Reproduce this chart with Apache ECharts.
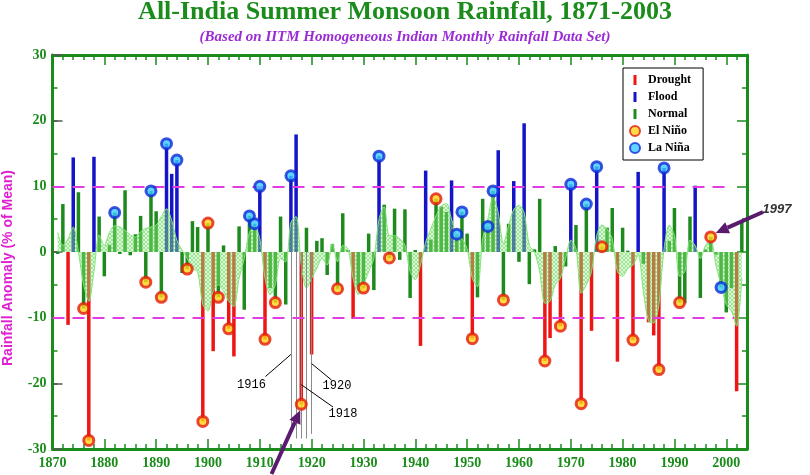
<!DOCTYPE html>
<html>
<head>
<meta charset="utf-8">
<title>All-India Summer Monsoon Rainfall</title>
<script src="https://cdn.jsdelivr.net/npm/echarts@6/dist/echarts.min.js"></script>
<style>
html, body { margin: 0; padding: 0; background: #fff; }
#chart { width: 810px; height: 475px; }
</style>
</head>
<body>
<div id="chart"></div>
<script>
// rainfall anomaly (% of mean), one value per year from 1871
var firstYear = 1871;
var anomaly = [
	-0.3, 7.3, -11.1, 14.4, 9.1, -8.6, -28.7, 14.5, 5.4, -3.7,
	1.1, 6.0, -0.3, 9.4, -0.5, 2.7, 5.5, -4.6, 9.3, 6.2,
	-6.9, 16.5, 11.9, 14.0, -3.2, -2.6, 4.7, 3.8, -25.8, 4.4,
	-15.1, -6.9, 1.0, -11.7, -15.9, 3.9, -8.8, 5.5, 4.3, 10.0,
	-13.3, -5.5, -7.7, 5.4, -8.0, 11.6, 17.9, -23.2, 3.7, -15.6,
	1.7, 2.1, -3.5, 1.2, -5.6, 5.9, 0.3, -10.2, -5.3, -5.5,
	2.8, -5.8, 14.6, 7.2, -0.9, 6.6, -1.2, 6.5, -7.0, 0.3,
	-14.3, 12.4, 1.9, 8.1, 6.9, 6.1, 10.9, 2.7, 6.1, 2.8,
	-13.2, -6.9, 8.1, 3.9, 9.3, 15.5, -7.3, 4.3, 10.8, -1.5,
	19.6, -4.9, 0.4, 8.1, -16.6, -13.1, 0.9, -11.3, -2.2, 10.3,
	4.1, -23.1, 7.3, -12.0, 13.0, 0.8, 3.7, 6.7, -16.7, 3.7,
	0.2, -13.4, 12.2, -1.8, -10.7, -12.7, -17.9, 12.8, 1.7, 6.7,
	-7.7, -7.8, 5.4, 10.1, -7.0, 0.4, 2.3, -0.4, -5.4, -9.2,
	-5.5, -21.2, 4.6
];
// smoothed curve (hatched area)
var smoothed = [
	3.0, 1.0, 2.0, 3.8, 0.0, -5.0, -7.5, -3.0, 2.6, 1.0,
	3.0, 4.0, 3.8, 3.3, 2.6, 2.3, 3.1, 3.6, 3.8, 4.1,
	5.4, 6.6, 4.8, 1.8, 0.3, -1.0, -2.5, -3.0, -8.0, -9.0,
	-6.0, -5.0, -6.0, -7.5, -8.3, -4.0, -1.0, 3.0, 3.8, 2.0,
	-4.0, -6.5, -5.0, -1.0, -1.5, 4.5, 5.4, -2.0, -5.5, -4.0,
	-2.5, -1.0, -2.0, 1.3, -1.5, 1.0, 0.5, -4.0, -6.5, -5.0,
	-3.0, -1.0, 5.0, 6.9, 2.5, 2.5, 2.0, 1.0, -3.0, -4.2,
	-2.0, 1.5, 3.5, 5.5, 7.0, 7.4, 5.0, 2.5, 2.0, 0.5,
	-4.0, -5.3, 2.0, 5.0, 8.4, 6.0, 1.3, 4.0, 6.5, 7.1,
	6.0, 1.0, 0.0, -3.0, -7.8, -7.5, -5.0, -4.0, -1.0, 1.8,
	0.5, -6.3, -5.0, -3.0, 2.5, 4.1, 3.5, 2.0, -3.0, -3.7,
	-2.5, -2.0, -0.5, -6.0, -10.5, -10.8, -8.0, 0.5, 4.1, 2.5,
	-3.7, -3.0, 1.8, 1.0, -1.0, 1.0, 1.8, -2.0, -5.0, -8.0,
	-9.0, -11.3, -4.0
];
var droughtYears = [1873, 1877, 1899, 1901, 1904, 1905, 1911, 1918, 1920, 1928, 1941, 1951,
	1965, 1966, 1968, 1972, 1974, 1979, 1982, 1985, 1986, 1987, 2002];
var floodYears = [1874, 1878, 1892, 1893, 1894, 1910, 1916, 1917, 1933, 1942, 1947, 1956,
	1959, 1961, 1970, 1975, 1983, 1988, 1994];
var elNinoYears = [1876, 1877, 1888, 1891, 1896, 1899, 1900, 1902, 1904, 1911, 1913, 1918,
	1925, 1930, 1935, 1944, 1951, 1957, 1965, 1968, 1972, 1976, 1982, 1987, 1991, 1997];
var laNinaYears = [1882, 1889, 1892, 1894, 1908, 1909, 1910, 1916, 1933, 1948, 1949, 1954,
	1955, 1970, 1973, 1975, 1988, 1999];
var guideYears = [1916, 1917, 1918, 1919, 1920];

var green = '#1b8c1b';
var serif = 'Liberation Serif';

var valueOf = function(y) { return anomaly[y - firstYear]; };
var drought = [], flood = [], normal = [], smooth = [];
for (var i = 0; i < anomaly.length; i++) {
	var yr = firstYear + i;
	var pt = [yr, anomaly[i]];
	if (droughtYears.indexOf(yr) >= 0) drought.push(pt);
	else if (floodYears.indexOf(yr) >= 0) flood.push(pt);
	else normal.push(pt);
	smooth.push([yr, smoothed[i]]);
}
var elNino = elNinoYears.map(function(y) { return [y, valueOf(y)]; });
var laNina = laNinaYears.map(function(y) { return [y, valueOf(y)]; });

// hatched fill for the smoothed area
var hatch = document.createElement('canvas');
hatch.width = 4; hatch.height = 4;
var hc = hatch.getContext('2d');
hc.fillStyle = 'rgba(165,242,145,0.55)';
hc.fillRect(0, 0, 4, 4);
hc.strokeStyle = 'rgba(95,212,85,0.8)';
hc.lineWidth = 1;
hc.beginPath();
hc.moveTo(0, 4); hc.lineTo(4, 0);
hc.moveTo(0, 0); hc.lineTo(4, 4);
hc.stroke();

var xAx = function(pos, step, len, labels) {
	return {
		type : 'value', min : 1870, max : 2004, interval : step, position : pos,
		axisLine : { show : step === 2, onZero : false, lineStyle : { color : green, width : 3 } },
		axisTick : { inside : true, length : len, lineStyle : { color : green, width : 1.5 } },
		axisLabel : {
			show : labels, margin : 7, color : green, fontFamily : serif, fontWeight : 'bold', fontSize : 14,
			formatter : function(v) { return v % 10 === 0 ? String(v) : ''; }
		},
		splitLine : { show : false }
	};
};
var yAx = function(pos, step, len, labels, tickColor) {
	return {
		type : 'value', min : -30, max : 30, interval : step, position : pos,
		axisLine : { show : step === 5, lineStyle : { color : green, width : 3 } },
		axisTick : { inside : true, length : len, lineStyle : { color : tickColor, width : 1.5 } },
		axisLabel : {
			show : labels, margin : 6, color : green, fontFamily : serif, fontWeight : 'bold', fontSize : 14
		},
		splitLine : { show : false }
	};
};

var chart = echarts.init(document.getElementById('chart'));
var option = {
	animation : false,
	title : {
		text : 'All-India Summer Monsoon Rainfall, 1871-2003',
		subtext : '(Based on IITM Homogeneous Indian Monthly Rainfall Data Set)',
		left : 'center',
		top : -1,
		padding : 0,
		itemGap : 5,
		textStyle : { color : green, fontFamily : serif, fontWeight : 'bold', fontSize : 26 },
		subtextStyle : { color : '#9b2bd6', fontFamily : serif, fontWeight : 'bold', fontStyle : 'italic', fontSize : 15 }
	},
	legend : {
		orient : 'vertical',
		left : 623,
		top : 68,
		padding : [6, 12, 6, 6],
		itemGap : 5,
		itemWidth : 10,
		itemHeight : 10,
		backgroundColor : '#fff',
		borderColor : '#000',
		borderWidth : 1,
		textStyle : { color : '#000', fontFamily : serif, fontWeight : 'bold', fontSize : 12, padding : [0, 0, 0, 3] },
		data : [
			{ name : 'Drought', icon : 'path://M0,0H3V10H0Z' },
			{ name : 'Flood', icon : 'path://M0,0H3V10H0Z' },
			{ name : 'Normal', icon : 'path://M0,0H3V10H0Z' },
			{ name : 'El Niño', icon : 'circle' },
			{ name : 'La Niña', icon : 'circle' }
		]
	},
	grid : { left : 52.5, right : 63, top : 55, bottom : 26 },
	xAxis : [ xAx('bottom', 2, 5, false), xAx('bottom', 10, 10, true), xAx('top', 2, 5, false), xAx('top', 10, 10, false) ],
	yAxis : [ yAx('left', 5, 5, false, green), yAx('left', 10, 10, true, '#555'), yAx('right', 5, 5, false, green), yAx('right', 10, 10, false, green) ],
	series : [ {
		name : 'guides',
		type : 'line',
		data : [],
		z : 1,
		markLine : {
			silent : true, symbol : 'none', label : { show : false },
			lineStyle : { color : '#8a8a8a', width : 1, type : 'solid' },
			data : guideYears.map(function(y) {
				var bottom = (y === 1916 || y === 1920) ? -27.7 : -28.4;
				return [ { coord : [y, 0] }, { coord : [y, bottom] } ];
			})
		}
	}, {
		name : 'Drought', type : 'bar', data : drought, barWidth : 3.5, barGap : '-100%', z : 2,
		itemStyle : { color : '#ee1515' }
	}, {
		name : 'Flood', type : 'bar', data : flood, barWidth : 3.5, barGap : '-100%', z : 2,
		itemStyle : { color : '#1414c8' }
	}, {
		name : 'Normal', type : 'bar', data : normal, barWidth : 3.5, barGap : '-100%', z : 2,
		itemStyle : { color : '#1e8a1e' }
	}, {
		name : 'smooth', type : 'line', data : smooth, smooth : 0.3, showSymbol : false, z : 3,
		lineStyle : { color : '#80e476', width : 1 },
		areaStyle : { color : { image : hatch, repeat : 'repeat' } }
	}, {
		name : 'El Niño', type : 'scatter', data : elNino, symbol : 'circle', symbolSize : 10, z : 5,
		itemStyle : { color : '#ffd21a', borderColor : '#e41a0a', borderWidth : 3 },
		markLine : {
			silent : true, symbol : 'none', label : { show : false },
			lineStyle : { color : '#e03ce0', width : 2, type : [12, 8] },
			data : [
				[ { coord : [1870, 10] }, { coord : [2000.5, 10] } ],
				[ { coord : [1870, -10] }, { coord : [2001.5, -10] } ]
			]
		}
	}, {
		name : 'La Niña', type : 'scatter', data : laNina, symbol : 'circle', symbolSize : 10, z : 5,
		itemStyle : { color : '#3cc8ff', borderColor : '#0f2ad8', borderWidth : 3 }
	} ]
};
chart.setOption(option);

// annotations: year labels, leader lines and arrows
var px = function(x, y) { return chart.convertToPixel({ seriesIndex : 1 }, [x, y]); };
var arrow = function(x1, y1, x2, y2, color) {
	var ang = Math.atan2(y2 - y1, x2 - x1), hl = 13, hw = 6;
	var bx = x2 - hl * Math.cos(ang), by = y2 - hl * Math.sin(ang);
	return [ {
		type : 'line', z : 20,
		shape : { x1 : x1, y1 : y1, x2 : bx, y2 : by },
		style : { stroke : color, lineWidth : 4 }
	}, {
		type : 'polygon', z : 20,
		shape : { points : [ [x2, y2],
			[bx + hw * Math.sin(ang), by - hw * Math.cos(ang)],
			[bx - hw * Math.sin(ang), by + hw * Math.cos(ang)] ] },
		style : { fill : color }
	} ];
};
var leader = function(a, b) {
	return { type : 'line', z : 15, shape : { x1 : a[0], y1 : a[1], x2 : b[0], y2 : b[1] }, style : { stroke : '#000', lineWidth : 1 } };
};
var note = function(text, p) {
	return { type : 'text', z : 15, x : p[0], y : p[1],
		style : { text : text, fill : '#000', font : '12px "Liberation Mono"', textAlign : 'center', textVerticalAlign : 'middle' } };
};
var m1918 = px(1918, valueOf(1918));
var m1997 = px(1997, valueOf(1997));
var g = [
	leader(px(1916, -15.6), [265.5, 376.5]), note('1916', [251.5, 385]),
	leader(px(1918, -20.2), [333, 407]), note('1918', [343, 414]),
	leader(px(1920, -17.0), [331.5, 380]), note('1920', [337, 386]),
	{ type : 'text', z : 20, x : 777, y : 209,
		style : { text : '1997', fill : '#333', font : 'italic bold 13px "Liberation Sans"', textAlign : 'center', textVerticalAlign : 'middle' } },
	{ type : 'text', z : 20, x : 8, y : 268, rotation : Math.PI / 2,
		style : { text : 'Rainfall Anomaly (% of Mean)', fill : '#e020d0', font : 'bold 14px "Liberation Sans"', textAlign : 'center', textVerticalAlign : 'middle' } }
];
g = g.concat(arrow(271.5, 474, m1918[0] - 1, m1918[1] + 6, '#5a1a6e'));
g = g.concat(arrow(763, 212, m1997[0] + 5, m1997[1] - 4, '#5a1a6e'));
chart.setOption({ graphic : g });
</script>
</body>
</html>
